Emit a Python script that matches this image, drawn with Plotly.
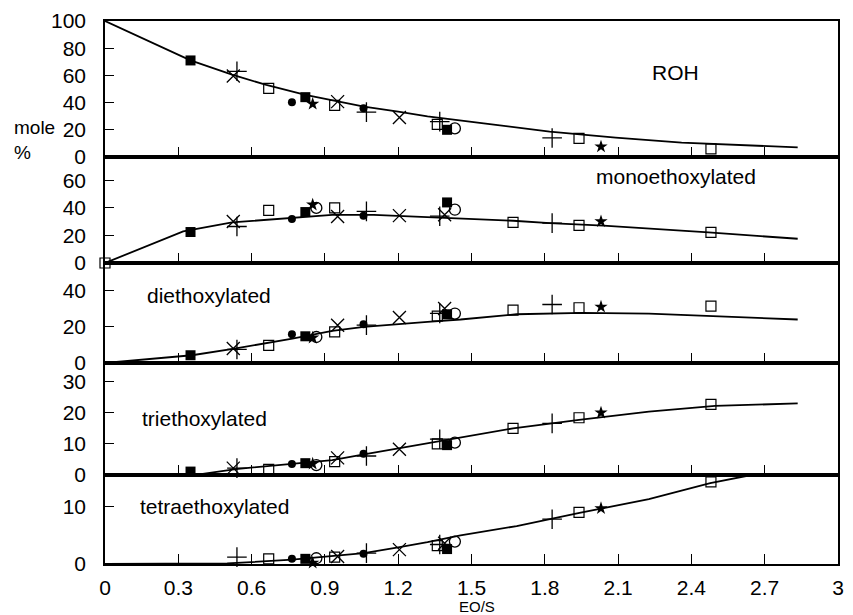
import plotly.graph_objects as go
from plotly.subplots import make_subplots

# ---------------- data ----------------
panel_names = ["ROH", "monoethoxylated", "diethoxylated", "triethoxylated", "tetraethoxylated"]
y_ranges = [[0, 100], [0, 77], [0, 55.4], [0, 36], [0, 15.5]]
y_ticks = [[0, 20, 40, 60, 80, 100], [0, 20, 40, 60], [0, 20, 40], [0, 10, 20, 30], [0, 10]]
x_ticks = [0, 0.3, 0.6, 0.9, 1.2, 1.5, 1.8, 2.1, 2.4, 2.7, 3]
x_ticktext = ["0", "0.3", "0.6", "0.9", "1.2", "1.5", "1.8", "2.1", "2.4", "2.7", "3"]

# model curves
roh_line_x = [0, 0.35, 0.52, 0.66, 0.82, 0.95, 1.06, 1.2, 1.32, 1.55, 1.82, 2.09, 2.36, 2.835]
roh_line_y = [100, 71, 60.5, 53, 45.6, 41.2, 37, 33.3, 29.8, 24.8, 18.6, 14.2, 10.5, 7.1]
mono_line_x = [0, 0.32, 0.52, 0.765, 0.93, 1.1, 1.32, 1.414, 1.671, 1.82, 2.04, 2.47, 2.835]
mono_line_y = [0, 23, 29.5, 32.7, 35, 35, 33.4, 32.7, 30.7, 29, 27.1, 22.2, 17.6]
di_line_x = [0, 0.356, 0.53, 0.767, 0.93, 1.06, 1.32, 1.455, 1.685, 1.955, 2.226, 2.497, 2.835]
di_line_y = [0, 4.3, 8, 13.5, 17.8, 20, 22.8, 24.1, 27, 27.8, 27.4, 25.9, 24.1]
tri_line_x = [0, 0.386, 0.535, 0.767, 0.93, 1.06, 1.204, 1.32, 1.44, 1.67, 1.94, 2.226, 2.497, 2.835]
tri_line_y = [0, 0.2, 1.9, 3.5, 4.8, 6.6, 8.6, 10.2, 11.8, 15, 17.7, 20.4, 22.2, 23]
tetra_line_x = [0, 0.5, 0.767, 0.93, 1.06, 1.2, 1.32, 1.455, 1.685, 1.942, 2.226, 2.477, 2.645]
tetra_line_y = [0, 0.1, 0.75, 1.44, 1.9, 2.9, 3.8, 5.0, 6.6, 8.9, 11.3, 14.1, 15.5]

# experimental points, per symbol: x and values in each panel (ROH, mono, di, tri, tetra)
fsq_x = [0.35, 0.82, 1.40]
fsq_roh = [71, 44, 20]
fsq_mono = [22.5, 37, 44]
fsq_di = [4.3, 14.8, 27]
fsq_tri = [1.1, 3.8, 9.6]
fsq_tetra = [None, 0.9, 2.6]

plus_x = [0.54, 1.07, 1.37, 1.83]
plus_roh = [63, 33, 26, 14]
plus_mono = [26.5, 37.5, 34, 29]
plus_di = [7.5, 21, 27.5, 32.4]
plus_tri = [2.2, 6.1, 11.5, 16.6]
plus_tetra = [1.2, 1.9, 3.4, 7.8]

osq_x = [0, 0.67, 0.94, 1.36, 1.67, 1.94, 2.48]
osq_roh = [None, 50.5, 38, 24, None, 13.7, 6]
osq_mono = [0, 38.2, 40, None, 29.5, 27.3, 22.2]
osq_di = [None, 9.8, 17.2, 26, 29.3, 30.6, 31.5]
osq_tri = [None, 1.8, 4.3, 10, 15, 18.4, 22.7]
osq_tetra = [None, 0.9, 1.2, 3.2, None, 9.0, 14.3]

fci_x = [0.765, 1.058]
fci_roh = [40.2, 35.8]
fci_mono = [32, 34.4]
fci_di = [15.9, 21.5]
fci_tri = [3.5, 6.8]
fci_tetra = [0.9, 1.8]

xx_x = [0.525, 0.952, 1.205, 1.39]
xx_roh = [59.6, 40.7, 29, None]
xx_mono = [30.2, 33.8, 34.4, 35]
xx_di = [8, 20.9, 25.2, 30.2]
xx_tri = [2.2, 5.5, 8.3, None]
xx_tetra = [None, 1.3, 2.5, 3.6]

star_x = [0.85, 2.03]
star_roh = [39, 7.6]
star_mono = [42.3, 30.2]
star_di = [14, 31.1]
star_tri = [3.6, 20]
star_tetra = [0.2, 9.7]

oci_x = [0.865, 1.432]
oci_roh = [None, 21]
oci_mono = [40, 38.7]
oci_di = [14.4, 27.4]
oci_tri = [3.2, 10.4]
oci_tetra = [1.0, 3.9]

# ---------------- figure ----------------
FONT = "Liberation Sans, Arial, sans-serif"
W, H = 853, 615
L, R, T, B = 105, 9, 21, 51

fig = make_subplots(rows=5, cols=1, shared_xaxes=True, vertical_spacing=0,
                    row_heights=[136, 106, 100, 112, 89])

lines = [(roh_line_x, roh_line_y), (mono_line_x, mono_line_y), (di_line_x, di_line_y),
         (tri_line_x, tri_line_y), (tetra_line_x, tetra_line_y)]
series = [
    (fsq_x, [fsq_roh, fsq_mono, fsq_di, fsq_tri, fsq_tetra], dict(symbol="square", size=10, color="black")),
    (plus_x, [plus_roh, plus_mono, plus_di, plus_tri, plus_tetra],
     dict(symbol="cross-thin-open", size=14, color="black", line=dict(width=1.3, color="black"))),
    (osq_x, [osq_roh, osq_mono, osq_di, osq_tri, osq_tetra],
     dict(symbol="square-open", size=10, color="black", line=dict(width=1.2, color="black"))),
    (fci_x, [fci_roh, fci_mono, fci_di, fci_tri, fci_tetra], dict(symbol="circle", size=8, color="black")),
    (xx_x, [xx_roh, xx_mono, xx_di, xx_tri, xx_tetra],
     dict(symbol="x-thin-open", size=13, color="black", line=dict(width=1.3, color="black"))),
    (star_x, [star_roh, star_mono, star_di, star_tri, star_tetra],
     dict(symbol="star", size=10, color="black", line=dict(width=0))),
    (oci_x, [oci_roh, oci_mono, oci_di, oci_tri, oci_tetra],
     dict(symbol="circle-open", size=11, color="black", line=dict(width=1.3, color="black"))),
]

for i in range(5):
    lx, ly = lines[i]
    fig.add_trace(go.Scatter(x=lx, y=ly, mode="lines", line=dict(color="black", width=1.8),
                             showlegend=False, hoverinfo="skip"), row=i + 1, col=1)
    for sx, vals, mk in series:
        fig.add_trace(go.Scatter(x=sx, y=vals[i], mode="markers", marker=mk,
                                 showlegend=False, cliponaxis=False), row=i + 1, col=1)

for i in range(5):
    fig.update_yaxes(range=y_ranges[i], tickvals=y_ticks[i], ticks="inside", ticklen=9,
                     tickwidth=1, tickcolor="black", showline=True, linecolor="black",
                     linewidth=1.5, mirror=True, showgrid=False, zeroline=False,
                     ticklabelstandoff=13,
                     tickfont=dict(family=FONT, size=21, color="black"), row=i + 1, col=1)
    fig.update_xaxes(range=[0, 3], tickvals=x_ticks, ticktext=x_ticktext, ticks="inside",
                     ticklen=10, tickwidth=1, tickcolor="black", showline=True,
                     linecolor="black", linewidth=1.5, mirror=True, showgrid=False,
                     zeroline=False, ticklabelstandoff=4,
                     tickfont=dict(family=FONT, size=21, color="black"),
                     row=i + 1, col=1)

label_pos = [(2.335, 62.5), (2.335, 62.7), (0.424, 37.6), (0.406, 18), (0.447, 9.95)]
for i in range(5):
    yref = "y" if i == 0 else f"y{i + 1}"
    fig.add_annotation(x=label_pos[i][0], y=label_pos[i][1], xref="x", yref=yref,
                       text=panel_names[i], showarrow=False,
                       font=dict(family=FONT, size=21, color="black"))

pw, ph = W - L - R, H - T - B


def px(x):
    return (x - L) / pw


def py(y):
    return (H - B - y) / ph


fig.add_annotation(x=px(11), y=py(140), xref="paper", yref="paper", text="mole<br>%",
                   showarrow=False, align="left", xanchor="left", yanchor="middle",
                   font=dict(family=FONT, size=19, color="black"))
fig.add_annotation(x=px(480), y=py(606), xref="paper", yref="paper", text="EO/S", showarrow=False,
                   xanchor="center", yanchor="middle", font=dict(family=FONT, size=15, color="black"))

fig.update_layout(width=W, height=H, margin=dict(l=L, r=R, t=T, b=B),
                  paper_bgcolor="white", plot_bgcolor="white", showlegend=False)

fig.write_html("out.html")
